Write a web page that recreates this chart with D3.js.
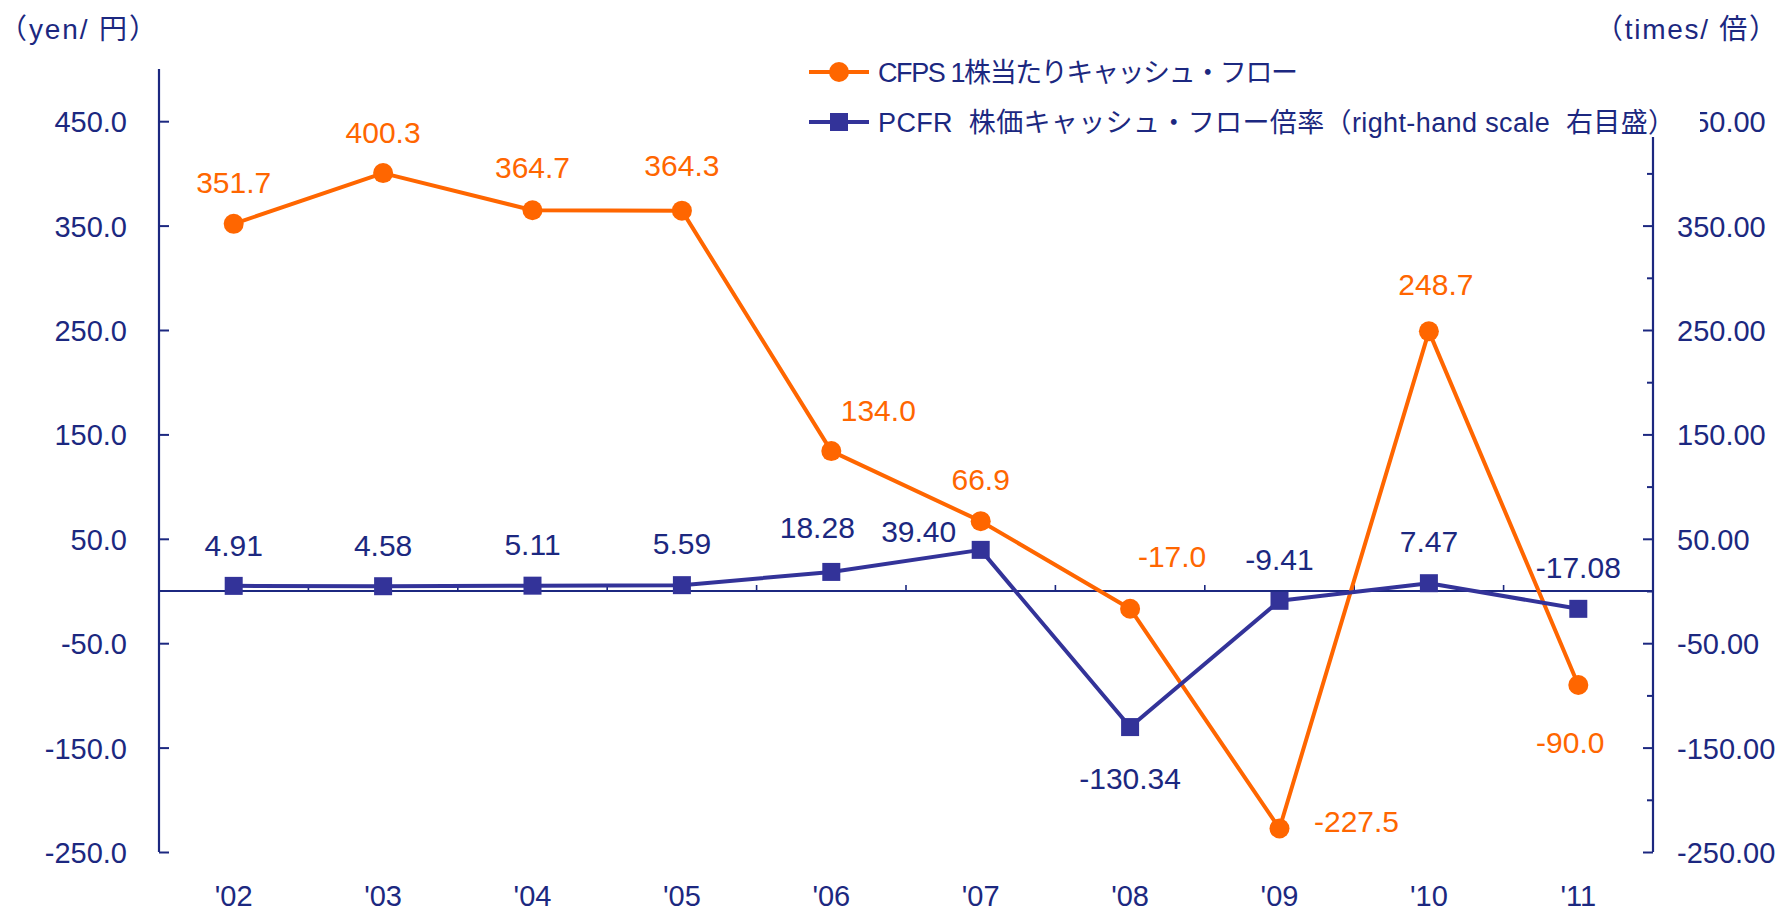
<!DOCTYPE html>
<html>
<head>
<meta charset="utf-8">
<script src="https://cdn.jsdelivr.net/npm/d3@7/dist/d3.min.js"></script>
<style>
  html, body { margin: 0; padding: 0; background: #ffffff; }
  svg { display: block; }
  text { font-family: "Liberation Sans", Arial, "Noto Sans CJK JP", sans-serif; white-space: pre; }
</style>
</head>
<body>
<svg id="chart" width="1777" height="911"></svg>
<script>
// Fiscal years
const categories = ["'02", "'03", "'04", "'05", "'06", "'07", "'08", "'09", "'10", "'11"];
// Cash flow per share (yen), left-hand scale
const cfpsValues = [351.7, 400.3, 364.7, 364.3, 134.0, 66.9, -17.0, -227.5, 248.7, -90.0];
// Price / cash flow ratio (times), right-hand scale
const pcfrValues = [4.91, 4.58, 5.11, 5.59, 18.28, 39.40, -130.34, -9.41, 7.47, -17.08];
// Axis ticks
const leftTickValues = [450, 350, 250, 150, 50, -50, -150, -250];
const rightMajorTicks = [450, 350, 250, 150, 50, -50, -150, -250];
const rightMinorTicks = [400, 300, 200, 100, 0, -100, -200];
// Series names
const seriesNames = ["CFPS 1株当たりキャッシュ・フロー", "PCFR  株価キャッシュ・フロー倍率（right-hand scale  右目盛）"];
const unitLeft = "（yen/ 円）";
const unitRight = "（times/ 倍）";

// Label placement around each marker (dx, dy of label centre)
const cfpsLabelShift = [[0,-42],[0,-41],[0,-43],[0,-45],[47,-41],[0,-42],[42,-53],[77,-7],[7,-47],[-8,57]];
const pcfrLabelShift = [[0,-41],[0,-41],[0,-41],[0,-42],[-14,-45],[-62,-19],[0,51],[0,-42],[0,-42],[0,-42]];

const ORANGE = "#FF6600";
const NAVY = "#333399";
const INK = "#1c2880";
const FS_AXIS = 29;
const FS_LABEL = 30;

// Plain hyphen for negative numbers
const locale = d3.formatLocale({ decimal: ".", thousands: ",", grouping: [3], currency: ["", ""], minus: "-" });
const fmt1 = locale.format(".1f");
const fmt2 = locale.format(".2f");

const svg = d3.select("#chart");
const plotLeft = 159, plotRight = 1653, plotTop = 69, plotBottom = 852;

const x = d3.scaleBand().domain(categories).range([plotLeft, plotRight]).padding(0);
const y = d3.scaleLinear().domain([-250, 500]).range([plotBottom, plotTop]);
const y2 = d3.scaleLinear().domain([-250, 500]).range([plotBottom, plotTop]);
const cx = c => x(c) + x.bandwidth() / 2;

// Left axis: ticks inward, labels outside
const gLeft = svg.append("g").attr("transform", `translate(${plotLeft},0)`)
  .call(d3.axisRight(y).tickValues(leftTickValues).tickSize(10).tickFormat(fmt1));
gLeft.select(".domain").attr("stroke", INK).attr("stroke-width", 2.2).attr("d", `M0,${plotTop}V${plotBottom}`);
gLeft.selectAll(".tick line").attr("stroke", INK).attr("stroke-width", 2);
gLeft.selectAll(".tick text").attr("x", -32).attr("dy", "0.36em").attr("text-anchor", "end")
  .attr("fill", INK).style("font-size", FS_AXIS + "px");

// Right axis
const gRightMinor = svg.append("g").attr("transform", `translate(${plotRight},0)`)
  .call(d3.axisLeft(y2).tickValues(rightMinorTicks).tickSize(6).tickFormat(""));
gRightMinor.select(".domain").remove();
gRightMinor.selectAll(".tick line").attr("stroke", INK).attr("stroke-width", 2);
const gRight = svg.append("g").attr("transform", `translate(${plotRight},0)`)
  .call(d3.axisLeft(y2).tickValues(rightMajorTicks).tickSize(10).tickFormat(fmt2));
gRight.select(".domain").attr("stroke", INK).attr("stroke-width", 2.2).attr("d", `M0,${plotTop}V${plotBottom}`);
gRight.selectAll(".tick line").attr("stroke", INK).attr("stroke-width", 2);
gRight.selectAll(".tick text").attr("x", 24).attr("dy", "0.36em").attr("text-anchor", "start")
  .attr("fill", INK).style("font-size", FS_AXIS + "px");

// Category labels along the bottom
const gBottom = svg.append("g").attr("transform", `translate(0,${plotBottom})`)
  .call(d3.axisBottom(x).tickSize(0).tickPadding(0));
gBottom.select(".domain").remove();
gBottom.selectAll(".tick text").attr("y", 54).attr("dy", 0).attr("fill", INK).style("font-size", FS_AXIS + "px");

// Zero line with category separators
const y0 = y(0);
svg.append("line").attr("x1", plotLeft).attr("x2", plotRight).attr("y1", y0).attr("y2", y0)
  .attr("stroke", INK).attr("stroke-width", 2);
svg.append("g").selectAll("line").data(categories.slice(1)).join("line")
  .attr("x1", d => x(d)).attr("x2", d => x(d)).attr("y1", y0).attr("y2", y0 - 6)
  .attr("stroke", INK).attr("stroke-width", 1.6);

// CFPS series
const lineCfps = d3.line().x((d, i) => cx(categories[i])).y(d => y(d));
svg.append("path").datum(cfpsValues).attr("d", lineCfps)
  .attr("fill", "none").attr("stroke", ORANGE).attr("stroke-width", 4).attr("stroke-linejoin", "round");
svg.append("g").selectAll("circle").data(cfpsValues).join("circle")
  .attr("cx", (d, i) => cx(categories[i])).attr("cy", d => y(d)).attr("r", 10).attr("fill", ORANGE);

// PCFR series
const linePcfr = d3.line().x((d, i) => cx(categories[i])).y(d => y2(d));
svg.append("path").datum(pcfrValues).attr("d", linePcfr)
  .attr("fill", "none").attr("stroke", NAVY).attr("stroke-width", 4).attr("stroke-linejoin", "round");
svg.append("g").selectAll("rect").data(pcfrValues).join("rect")
  .attr("x", (d, i) => cx(categories[i]) - 9).attr("y", d => y2(d) - 9)
  .attr("width", 18).attr("height", 18).attr("fill", NAVY);

// Value labels
svg.append("g").selectAll("text").data(cfpsValues).join("text")
  .attr("x", (d, i) => cx(categories[i]) + cfpsLabelShift[i][0])
  .attr("y", (d, i) => y(d) + cfpsLabelShift[i][1])
  .attr("dy", "0.36em").attr("text-anchor", "middle")
  .attr("fill", ORANGE).style("font-size", FS_LABEL + "px")
  .text(d => fmt1(d));
svg.append("g").selectAll("text").data(pcfrValues).join("text")
  .attr("x", (d, i) => cx(categories[i]) + pcfrLabelShift[i][0])
  .attr("y", (d, i) => y2(d) + pcfrLabelShift[i][1])
  .attr("dy", "0.36em").attr("text-anchor", "middle")
  .attr("fill", INK).style("font-size", FS_LABEL + "px")
  .text(d => fmt2(d));

// Legend (white box sits over the top of the right-hand axis)
const legend = svg.append("g");
legend.append("rect").attr("x", 795).attr("y", 44).attr("width", 905).attr("height", 93).attr("fill", "#ffffff");
const legendRows = [
  { name: seriesNames[0], color: ORANGE, shape: "circle", cy: 72, len: 420 },
  { name: seriesNames[1], color: NAVY, shape: "square", cy: 122, len: 797 }
];
legendRows.forEach(r => {
  legend.append("line").attr("x1", 809).attr("x2", 869).attr("y1", r.cy).attr("y2", r.cy)
    .attr("stroke", r.color).attr("stroke-width", 4);
  if (r.shape === "circle") {
    legend.append("circle").attr("cx", 839).attr("cy", r.cy).attr("r", 10).attr("fill", r.color);
  } else {
    legend.append("rect").attr("x", 830).attr("y", r.cy - 9).attr("width", 18).attr("height", 18).attr("fill", r.color);
  }
  legend.append("text").attr("x", 878).attr("y", r.cy).attr("dy", "0.36em")
    .attr("textLength", r.len).attr("lengthAdjust", "spacing")
    .attr("fill", INK).style("font-size", "27px").text(r.name);
});

// Unit captions
svg.append("text").attr("x", -1).attr("y", 29).attr("dy", "0.36em").attr("fill", INK)
  .attr("textLength", 158).attr("lengthAdjust", "spacing")
  .style("font-size", "28px").text(unitLeft);
svg.append("text").attr("x", 1595).attr("y", 29).attr("dy", "0.36em").attr("fill", INK)
  .attr("textLength", 182).attr("lengthAdjust", "spacing")
  .style("font-size", "28px").text(unitRight);
</script>
</body>
</html>
